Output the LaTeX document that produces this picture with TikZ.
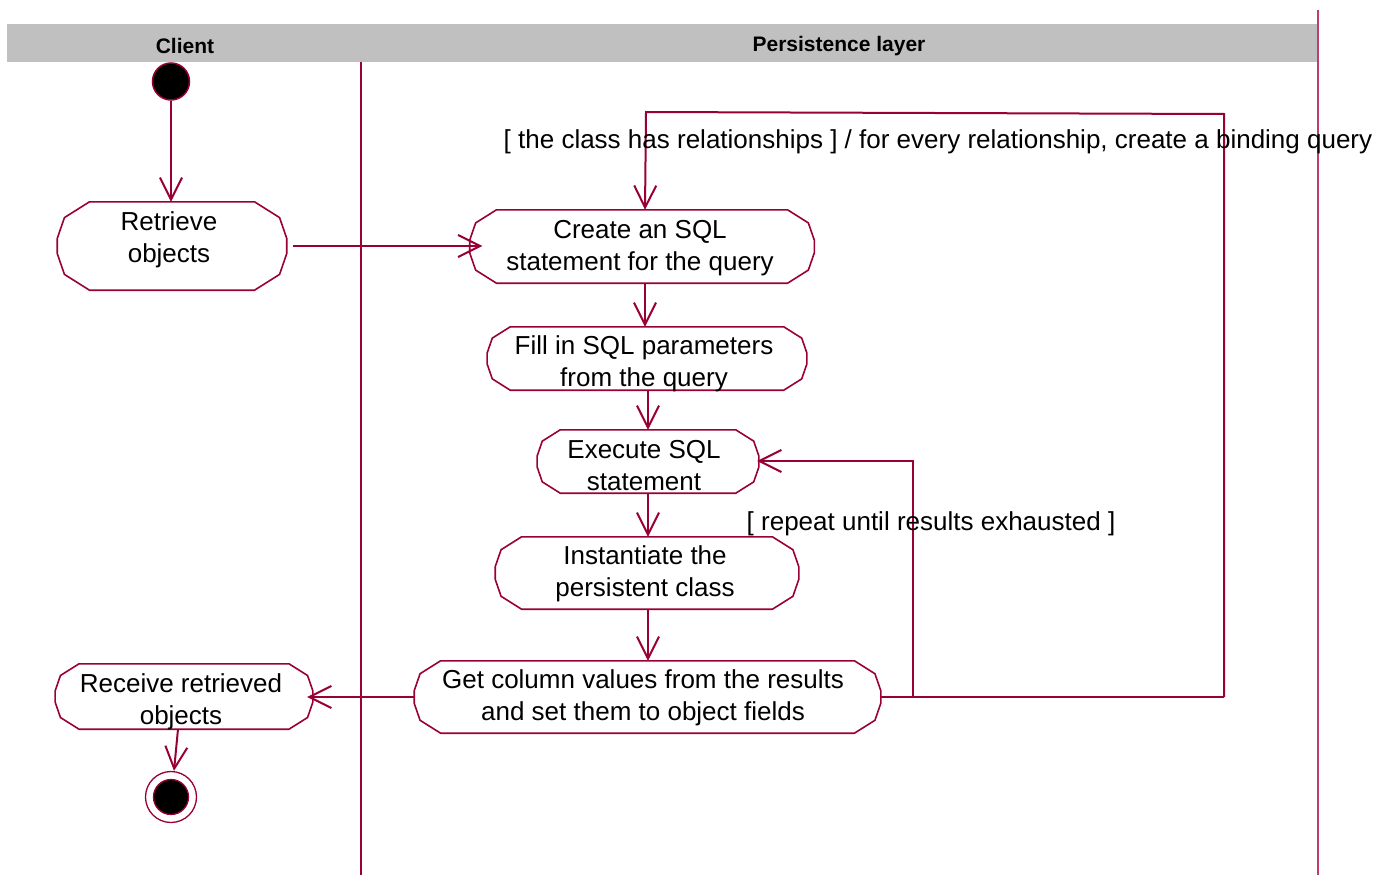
\documentclass[tikz,border=0pt]{standalone}
\usepackage{fontspec}
\setmainfont{Liberation Sans}
\usetikzlibrary{arrows.meta,calc}
\definecolor{umlred}{RGB}{153,0,51}
\definecolor{lanepink}{RGB}{190,60,110}
\definecolor{headgray}{RGB}{192,192,192}

% outline of an action state: flat top and bottom, faceted elliptic ends
% (vertices at 90, 40, 10, -10, -40, -90 degrees on each end)
\newcommand\actoutline[1]{%
  \draw[actline] let \p1=(#1.north west), \p2=(#1.south east), \p3=(#1.center),
      \n1={\y1-\y2}, \n2={0.37*\n1}, \n3={0.5*\n1} in
    ({\x2-\n2},\y1) -- ({\x2-0.234*\n2},{\y3+0.643*\n3}) -- ({\x2-0.015*\n2},{\y3+0.174*\n3})
    -- ({\x2-0.015*\n2},{\y3-0.174*\n3}) -- ({\x2-0.234*\n2},{\y3-0.643*\n3}) -- ({\x2-\n2},\y2)
    -- ({\x1+\n2},\y2) -- ({\x1+0.234*\n2},{\y3-0.643*\n3}) -- ({\x1+0.015*\n2},{\y3-0.174*\n3})
    -- ({\x1+0.015*\n2},{\y3+0.174*\n3}) -- ({\x1+0.234*\n2},{\y3+0.643*\n3}) -- ({\x1+\n2},\y1)
    -- cycle;}

\begin{document}
\begin{tikzpicture}[x=1pt,y=-1pt,
  actbox/.style={draw=none, rectangle, inner sep=0pt},
  actline/.style={draw=umlred, line width=1.6pt, fill=white, line join=round},
  acttext/.style={align=center, inner sep=0pt, font=\fontsize{26}{32}\selectfont},
  guard/.style={inner sep=0pt, font=\fontsize{26}{32}\selectfont},
  headtext/.style={inner sep=0pt, font=\fontsize{21}{25}\selectfont\bfseries},
  flow/.style={draw=umlred, line width=2pt, -{Straight Barb[length=22pt,width=22pt]}},
  plainline/.style={draw=umlred, line width=2pt},
  lane/.style={draw=umlred, line width=2pt},
  laneR/.style={draw=lanepink, line width=1.3pt},
  startnode/.style={circle, fill=black, draw=umlred, line width=1.5pt, minimum size=37pt, inner sep=0pt},
]
\useasboundingbox (0,0) rectangle (1394,875);

% swimlane header and separators
\fill[headgray] (7,24) rectangle (1318,62);
\node[headtext] (hclient) at (185,46) {Client};
\node[headtext] (hpersist) at (839,46) {Persistence layer};
\draw[lane] (361,62) -- (361,875);
\draw[laneR] (1318,10) -- (1318,875);

% initial and final states
\node[startnode] (start) at (171,81.5) {};
\node[circle, fill=white, draw=umlred, line width=1.3pt, minimum size=51pt, inner sep=0pt] (final) at (171,797) {};
\node[circle, fill=black, draw=umlred, line width=1.3pt, minimum size=35pt, inner sep=0pt] (finaldot) at (final) {};

% action states
\node[actbox, minimum width=230pt, minimum height=88pt] (retrieve) at (172,246) {};
\node[actbox, minimum width=345pt, minimum height=73pt] (create) at (642,246.5) {};
\node[actbox, minimum width=320pt, minimum height=63pt] (fill) at (647,358.5) {};
\node[actbox, minimum width=222pt, minimum height=63pt] (exec) at (648,461.5) {};
\node[actbox, minimum width=304pt, minimum height=72pt] (inst) at (647,573) {};
\node[actbox, minimum width=467pt, minimum height=72pt] (get) at (647.5,697) {};
\node[actbox, minimum width=258pt, minimum height=65pt] (receive) at (184,696.5) {};
\foreach \actname in {retrieve,create,fill,exec,inst,get,receive} {\actoutline{\actname}}

\node[acttext] (retrieve-t) at (169,240) {Retrieve\\objects};
\node[acttext] (create-t) at (640,248) {Create an SQL\\statement for the query};
\node[acttext] (fill-t) at (644,364) {Fill in SQL parameters\\from the query};
\node[acttext] (exec-t) at (644,466) {Execute SQL\\statement};
\node[acttext] (inst-t) at (645,574) {Instantiate the\\persistent class};
\node[acttext] (get-t) at (643,698) {Get column values from the results\\and set them to object fields};
\node[acttext] (receive-t) at (181,702) {Receive retrieved\\objects};

% transitions
\draw[flow] (start.south) -- (start.south |- retrieve.north);
\draw[flow] ([xshift=6pt]retrieve.east) -- ([xshift=13pt]create.west |- retrieve.east);
\draw[flow] ([xshift=3pt]create.south) -- ([xshift=3pt]create.south |- fill.north);
\draw[flow] (fill.south -| exec.south) -- (exec.north);
\draw[flow] (exec.south) -- (exec.south |- inst.north);
\draw[flow] (exec.south |- inst.south) -- (exec.south |- get.north);
\draw[flow] (get.west) -- ([xshift=-6pt]receive.east |- get.west);
\draw[flow] ([xshift=-6pt]receive.south) -- ([xshift=3pt]final.north);

\coordinate (loopA) at (913,697);
\coordinate (loopB) at (913,461);
\coordinate (relA) at (1224,697);
\coordinate (relB) at (1224,114);
\coordinate (relC) at (646,112);
\draw[plainline] (get.east) -- (relA);
\draw[flow] (loopA) -- (loopB) -- ([xshift=-2pt]exec.east |- loopB);
\draw[flow] (relA) -- (relB) -- (relC) -- ([xshift=3pt]create.north);

% guard labels
\node[guard] (g-rel) at (938,142) {[ the class has relationships ] / for every relationship, create a binding query};
\node[guard] (g-rep) at (931,524) {[ repeat until results exhausted ]};
\end{tikzpicture}
\end{document}
